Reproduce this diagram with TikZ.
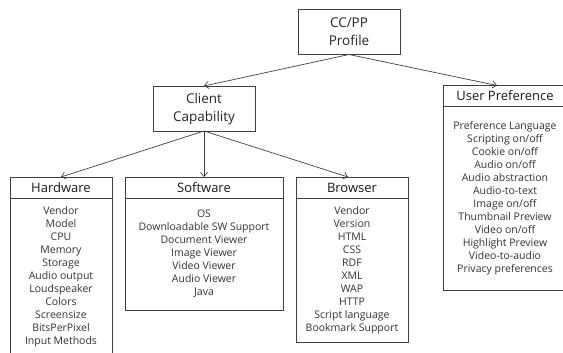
\documentclass[tikz,border=0pt]{standalone}
\usepackage{fontspec}
\setmainfont{Open Sans}
\usepackage{tikz}
\usetikzlibrary{arrows.meta, positioning}
\tikzset{
  topbox/.style={rectangle, draw=black!75, fill=white, minimum width=102pt,
                 minimum height=45pt, align=center, text=black!85,
                 font=\fontsize{13.5}{18}\selectfont, line width=0.8pt, outer sep=0pt},
  headbox/.style={rectangle, draw=black!75, fill=white, minimum height=21pt,
                  align=center, text=black!90, font=\fontsize{13}{14}\selectfont,
                  line width=0.8pt, outer sep=0pt},
  itembox/.style={rectangle, draw=black!75, fill=white, align=center,
                  text=black!80, font=\fontsize{10.5}{13}\selectfont,
                  line width=0.8pt, outer sep=0pt},
  arrow/.style={-{Straight Barb[length=4pt, width=7pt]}, draw=black!75, line width=0.7pt},
}
\begin{document}
\begin{tikzpicture}[x=1pt, y=-1pt, node distance=0pt]
  \useasboundingbox (0,0) rectangle (563,353);
  \clip (0,0) rectangle (563,353);
  % Nodes
  \node[topbox] (ccpp) at (349,32) {CC/PP\\Profile};
  \node[topbox] (client) at (204,108.5) {Client\\Capability};

  \node[headbox, minimum width=102pt] (hw) at (61,187.5) {Hardware};
  \node[itembox, minimum width=102pt, minimum height=158pt, below=of hw] (hwitems)
    {Vendor\\Model\\CPU\\Memory\\Storage\\Audio output\\Loudspeaker\\Colors\\Screensize\\BitsPerPixel\\Input Methods};

  \node[headbox, minimum width=158pt] (sw) at (204,187.5) {Software};
  \node[itembox, minimum width=158pt, minimum height=112pt, below=of sw] (switems)
    {OS\\Downloadable SW Support\\Document Viewer\\Image Viewer\\Video Viewer\\Audio Viewer\\Java};

  \node[headbox, minimum width=112pt] (br) at (352,187.5) {Browser};
  \node[itembox, minimum width=112pt, minimum height=144pt, below=of br] (britems)
    {Vendor\\Version\\HTML\\CSS\\RDF\\XML\\WAP\\HTTP\\Script language\\Bookmark Support};

  \node[headbox, minimum width=124pt] (user) at (505,96) {User Preference};
  \node[itembox, minimum width=124pt, minimum height=184pt, below=of user] (useritems)
    {Preference Language\\Scripting on/off\\Cookie on/off\\Audio on/off\\Audio abstraction\\Audio-to-text\\Image on/off\\Thumbnail Preview\\Video on/off\\Highlight Preview\\Video-to-audio\\Privacy preferences};

  % Edges
  \draw[arrow] (ccpp.south) -- (client.north);
  \draw[arrow] (ccpp.south) -- ([xshift=-8pt]user.north);
  \draw[arrow] (client.south) -- (hw.north);
  \draw[arrow] (client.south) -- (sw.north);
  \draw[arrow] (client.south) -- ([xshift=-4pt]br.north);
\end{tikzpicture}
\end{document}
